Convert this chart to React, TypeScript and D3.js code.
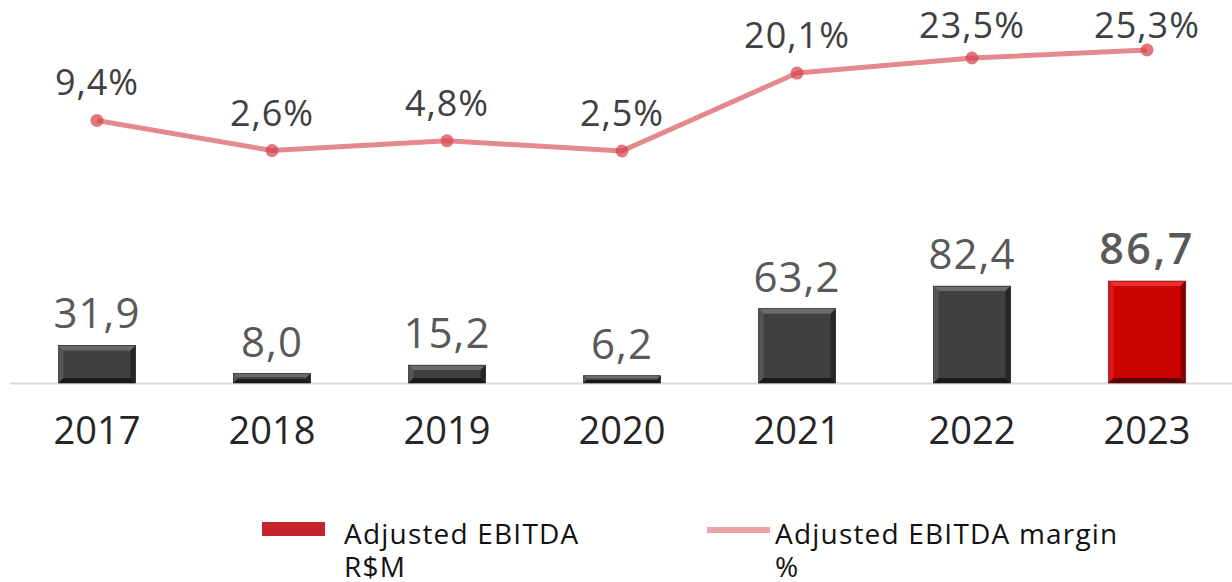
import React from "react";
import * as d3 from "d3";

const years = ["2017", "2018", "2019", "2020", "2021", "2022", "2023"];
const ebitda = [31.9, 8.0, 15.2, 6.2, 63.2, 82.4, 86.7];
const margin = [9.4, 2.6, 4.8, 2.5, 20.1, 23.5, 25.3];
const ebitdaLabels = ["31,9", "8,0", "15,2", "6,2", "63,2", "82,4", "86,7"];
const marginLabels = ["9,4%", "2,6%", "4,8%", "2,5%", "20,1%", "23,5%", "25,3%"];
const legendItems = [
  { lines: ["Adjusted EBITDA", "R$M"], type: "bar" },
  { lines: ["Adjusted EBITDA margin", "%"], type: "line" },
];

const W = 1232;
const H = 582;
const FONT = "'Open Sans', sans-serif";

function Bar({ x, y, w, h, base, light, dark, darker }: any) {
  const b = Math.min(5, h / 2.5);
  const x2 = x + w;
  const y2 = y + h;
  return (
    <g>
      <rect x={x} y={y} width={w} height={h} fill={base} />
      <polygon points={`${x},${y} ${x2},${y} ${x2 - b},${y + b} ${x + b},${y + b}`} fill={light} />
      <polygon points={`${x},${y} ${x + b},${y + b} ${x + b},${y2 - b} ${x},${y2}`} fill={light} opacity={0.5} />
      <polygon points={`${x2},${y} ${x2},${y2} ${x2 - b},${y2 - b} ${x2 - b},${y + b}`} fill={dark} />
      <polygon points={`${x},${y2} ${x + b},${y2 - b} ${x2 - b},${y2 - b} ${x2},${y2}`} fill={darker} />
      <rect x={x} y={y} width={w} height={h} fill="none" stroke={darker} strokeWidth={0.6} />
    </g>
  );
}

export default function App() {
  const x = d3.scaleBand<string>().domain(years).range([9.5, 1234.5]).paddingInner(0.56).paddingOuter(0.28);
  const yBar = d3.scaleLinear().domain([0, 100]).range([383, 265.4]);
  const yLine = d3.scaleLinear().domain([2.5, 25.3]).range([151, 50]);
  const bw = 77;
  const cx = (d: string) => (x(d) as number) + x.bandwidth() / 2;

  const line = d3
    .line<number>()
    .x((_, i) => cx(years[i]))
    .y((d) => yLine(d));

  return (
    <svg width={W} height={H} style={{ position: "absolute", left: 0, top: 0, background: "#fff" }}>
      <line x1={10} x2={1232} y1={383.5} y2={383.5} stroke="#d9d9d9" strokeWidth={2} />
      {ebitda.map((v, i) => {
        const last = i === ebitda.length - 1;
        const top = yBar(v);
        return (
          <g key={years[i]}>
            {last ? (
              <Bar x={cx(years[i]) - bw / 2} y={top} w={bw} h={383 - top} base="#cc0202" light="#ec3030" dark="#8a0000" darker="#5a0000" />
            ) : (
              <Bar x={cx(years[i]) - bw / 2} y={top} w={bw} h={383 - top} base="#404040" light="#6a6a6a" dark="#262626" darker="#1a1a1a" />
            )}
            <text
              x={cx(years[i])}
              y={top - 17}
              textAnchor="middle"
              fontFamily={FONT}
              fontSize={last ? 43 : 42}
              fontWeight={last ? 600 : 400}
              letterSpacing={last ? 2.5 : 1}
              fill="#595959"
            >
              {ebitdaLabels[i]}
            </text>
            <text x={cx(years[i])} y={444} textAnchor="middle" fontFamily={FONT} fontSize={38} fill="#262626">
              {years[i]}
            </text>
          </g>
        );
      })}
      <path d={line(margin) || ""} fill="none" stroke="#e48a8e" strokeWidth={5} strokeLinejoin="round" />
      {margin.map((v, i) => (
        <g key={"m" + i}>
          <circle cx={cx(years[i])} cy={yLine(v)} r={6.5} fill="#d8434c" opacity={0.72} />
          <text
            x={cx(years[i])}
            y={Math.max(yLine(v) - 25, 38)}
            textAnchor="middle"
            fontFamily={FONT}
            fontSize={36}
            letterSpacing={1}
            fill="#404040"
          >
            {marginLabels[i]}
          </text>
        </g>
      ))}
      {legendItems.map((it, i) => {
        const lx = i === 0 ? 262 : 707;
        const tx = i === 0 ? 344 : 775;
        return (
          <g key={"l" + i}>
            {it.type === "bar" ? (
              <rect x={lx} y={522} width={63} height={14} fill="#c4242d" />
            ) : (
              <line x1={lx} x2={lx + 63} y1={530} y2={530} stroke="#eca3a7" strokeWidth={6} />
            )}
            {it.lines.map((t, j) => (
              <text key={j} x={tx} y={544 + j * 33} fontFamily={FONT} fontSize={28} letterSpacing={1.2} fill="#111">
                {t}
              </text>
            ))}
          </g>
        );
      })}
    </svg>
  );
}
